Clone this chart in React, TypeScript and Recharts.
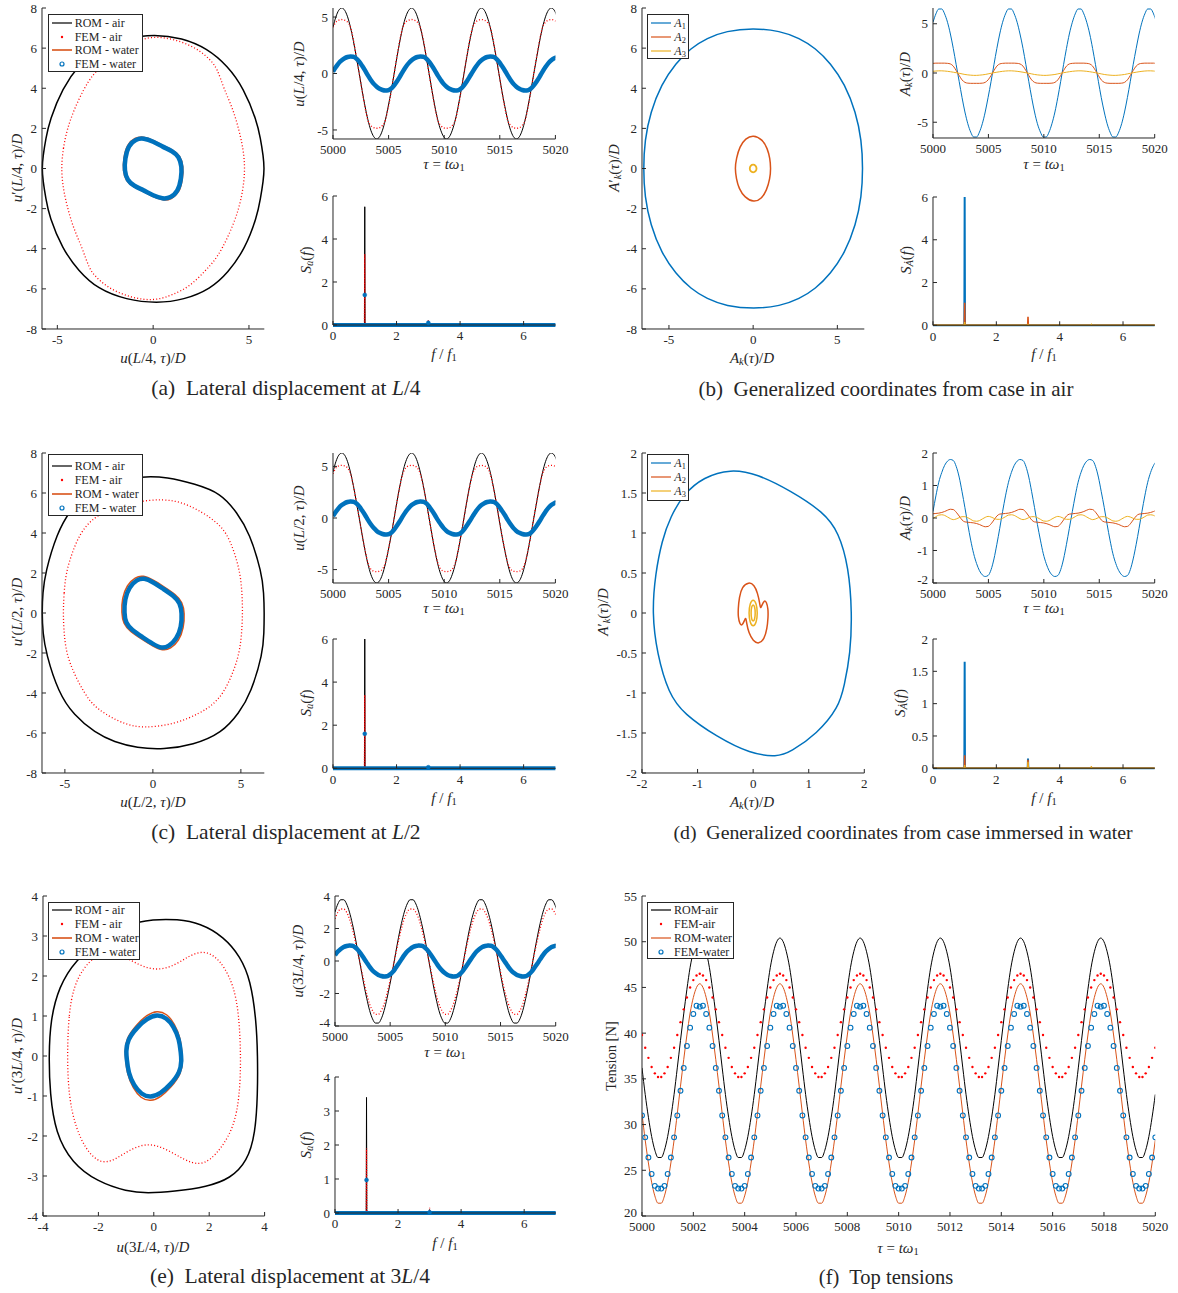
import React from "react";
import { ComposedChart, Line, XAxis, YAxis } from "recharts";

const SERIF = "'Liberation Serif', 'Times New Roman', serif";
const AX = "#262626";
const BLACK = "#000000";
const RED = "#ff0000";
const ORANGE = "#d95319";
const BLUE = "#0072bd";
const YELLOW = "#edb120";

type P = [number, number][];

// ---------------- time grid of the histories (tau = t * omega1) ----------------
const tau = [
  5000.0, 5000.26, 5000.52, 5000.79, 5001.05, 5001.31, 5001.57, 5001.83, 5002.09, 5002.36, 5002.62, 5002.88,
  5003.14, 5003.4, 5003.67, 5003.93, 5004.19, 5004.45, 5004.71, 5004.97, 5005.24, 5005.5, 5005.76, 5006.02,
  5006.28, 5006.54, 5006.81, 5007.07, 5007.33, 5007.59, 5007.85, 5008.12, 5008.38, 5008.64, 5008.9, 5009.16,
  5009.42, 5009.69, 5009.95, 5010.21, 5010.47, 5010.73, 5011.0, 5011.26, 5011.52, 5011.78, 5012.04, 5012.3,
  5012.57, 5012.83, 5013.09, 5013.35, 5013.61, 5013.87, 5014.14, 5014.4, 5014.66, 5014.92, 5015.18, 5015.45,
  5015.71, 5015.97, 5016.23, 5016.49, 5016.76, 5017.02, 5017.28, 5017.54, 5017.8, 5018.06, 5018.33, 5018.59,
  5018.85, 5019.11, 5019.37, 5019.63, 5019.9, 5020.16,
];

// ---------------- (a) lateral displacement at L/4 ----------------
const phaseA_romAir: P = [
  [-5.8, 0], [-5.75, 0.6], [-5.6, 1.5], [-5.4, 2.4], [-4.74, 4], [-3.85, 5.2], [-2.9, 6], [-1.5, 6.5], [0.1, 6.7], [1.5, 6.5],
  [2.8, 6], [3.9, 5.1], [4.72, 4], [5.4, 2.4], [5.6, 1.5], [5.75, 0.6], [5.8, 0], [5.75, -0.6], [5.6, -1.5], [5.42, -2.4], [4.8, -4], [3.9, -5.2],
  [3.0, -6], [1.6, -6.55], [0.2, -6.72], [-1.4, -6.55], [-2.9, -6], [-3.9, -5.1], [-4.74, -4], [-5.42, -2.4], [-5.6, -1.5], [-5.75, -0.6],
];
const phaseA_femAir: P = [
  [-4.8, 0], [-4.7, 1], [-4.48, 2], [-4.1, 3], [-3.6, 4], [-3.2, 4.6], [-2.75, 5.07], [-1.9, 5.9], [-1.0, 6.3],
  [-0.3, 6.53], [0.4, 6.55], [1.08, 6.43], [1.8, 6.2], [2.47, 5.85], [3.0, 5.4], [3.34, 5.0], [3.68, 4], [4.15, 3],
  [4.46, 2], [4.7, 1], [4.8, 0], [4.7, -1], [4.48, -2], [4.1, -3], [3.6, -4], [3.2, -4.6], [2.75, -5.07], [1.9, -5.9],
  [1.0, -6.3], [0.3, -6.53], [-0.4, -6.55], [-1.08, -6.43], [-1.8, -6.2], [-2.47, -5.85], [-3.0, -5.4], [-3.34, -5.0],
  [-3.68, -4], [-4.15, -3], [-4.46, -2], [-4.7, -1],
];
const phaseA_romWater: P = [
  [-1.58, -0.1], [-1.54, 0.53], [-1.37, 1.2], [-0.95, 1.54], [-0.53, 1.6], [0.0, 1.42], [0.53, 1.13], [1.05, 0.91],
  [1.42, 0.63], [1.58, 0.1], [1.54, -0.53], [1.37, -1.2], [0.95, -1.54], [0.53, -1.6], [0.0, -1.42], [-0.53, -1.13],
  [-1.05, -0.91], [-1.42, -0.63],
];
const phaseA_femWater: P = [
  [-1.5, -0.1], [-1.47, 0.5], [-1.3, 1.15], [-0.9, 1.47], [-0.5, 1.52], [0.0, 1.35], [0.5, 1.08], [1.0, 0.87],
  [1.35, 0.6], [1.5, 0.1], [1.47, -0.5], [1.3, -1.15], [0.9, -1.47], [0.5, -1.52], [0.0, -1.35], [-0.5, -1.08],
  [-1.0, -0.87], [-1.35, -0.6],
];
const histA_romAir = [
  4.1, 5.02, 5.6, 5.8, 5.6, 5.02, 4.1, 2.9, 1.5, 0, -1.5, -2.9, -4.1, -5.02, -5.6, -5.8, -5.6, -5.02, -4.1, -2.9, -1.5, 0, 1.5, 2.9,
  4.1, 5.02, 5.6, 5.8, 5.6, 5.02, 4.1, 2.9, 1.5, 0, -1.5, -2.9, -4.1, -5.02, -5.6, -5.8, -5.6, -5.02, -4.1, -2.9, -1.5, 0, 1.5, 2.9,
  4.1, 5.02, 5.6, 5.8, 5.6, 5.02, 4.1, 2.9, 1.5, 0, -1.5, -2.9, -4.1, -5.02, -5.6, -5.8, -5.6, -5.02, -4.1, -2.9, -1.5, 0, 1.5, 2.9,
  4.1, 5.02, 5.6, 5.8, 5.6, 5.02,
];
const histA_femAir = [
  4.1, 4.55, 4.72, 4.78, 4.72, 4.55, 4.1, 3.0, 1.55, 0, -1.55, -3.0, -4.15, -4.6, -4.8, -4.85, -4.8, -4.6, -4.15, -3.0, -1.55, 0, 1.55, 3.0,
  4.1, 4.55, 4.72, 4.78, 4.72, 4.55, 4.1, 3.0, 1.55, 0, -1.55, -3.0, -4.15, -4.6, -4.8, -4.85, -4.8, -4.6, -4.15, -3.0, -1.55, 0, 1.55, 3.0,
  4.1, 4.55, 4.72, 4.78, 4.72, 4.55, 4.1, 3.0, 1.55, 0, -1.55, -3.0, -4.15, -4.6, -4.8, -4.85, -4.8, -4.6, -4.15, -3.0, -1.55, 0, 1.55, 3.0,
  4.1, 4.55, 4.72, 4.78, 4.72, 4.55,
];
const histA_romWater = [
  0.17, 0.59, 0.95, 1.21, 1.4, 1.5, 1.55, 1.53, 1.37, 1.09, 0.7, 0.28, -0.17, -0.59, -0.95, -1.21, -1.4, -1.5, -1.55, -1.53, -1.37, -1.09, -0.7, -0.28,
  0.17, 0.59, 0.95, 1.21, 1.4, 1.5, 1.55, 1.53, 1.37, 1.09, 0.7, 0.28, -0.17, -0.59, -0.95, -1.21, -1.4, -1.5, -1.55, -1.53, -1.37, -1.09, -0.7, -0.28,
  0.17, 0.59, 0.95, 1.21, 1.4, 1.5, 1.55, 1.53, 1.37, 1.09, 0.7, 0.28, -0.17, -0.59, -0.95, -1.21, -1.4, -1.5, -1.55, -1.53, -1.37, -1.09, -0.7, -0.28,
  0.17, 0.59, 0.95, 1.21, 1.4, 1.5,
];
const histA_femWater = [
  0.17, 0.57, 0.92, 1.17, 1.35, 1.46, 1.5, 1.48, 1.33, 1.05, 0.68, 0.27, -0.17, -0.57, -0.92, -1.17, -1.35, -1.46, -1.5, -1.48, -1.33, -1.05, -0.68, -0.27,
  0.17, 0.57, 0.92, 1.17, 1.35, 1.46, 1.5, 1.48, 1.33, 1.05, 0.68, 0.27, -0.17, -0.57, -0.92, -1.17, -1.35, -1.46, -1.5, -1.48, -1.33, -1.05, -0.68, -0.27,
  0.17, 0.57, 0.92, 1.17, 1.35, 1.46, 1.5, 1.48, 1.33, 1.05, 0.68, 0.27, -0.17, -0.57, -0.92, -1.17, -1.35, -1.46, -1.5, -1.48, -1.33, -1.05, -0.68, -0.27,
  0.17, 0.57, 0.92, 1.17, 1.35, 1.46,
];

// spectra: frequency bins and amplitudes
const freqDisp = [0, 0.99, 1, 1.01, 2.99, 3, 3.01, 7];
const freqGen = [0, 0.99, 1, 1.01, 2.99, 3, 3.01, 4.99, 5, 5.01, 7];
const freqBase = [0, 7];
const baseZero = [0, 0];
const freqPeaks = [1, 3];
const specA_romAir = [0, 0, 5.5, 0, 0, 0.12, 0, 0];
const specA_femAir = [0, 0, 3.3, 0, 0, 0.25, 0, 0];
const specA_femWater = [1.4, 0.1];

// ---------------- (b) generalized coordinates, air ----------------
const phaseB_a1: P = [
  [6.52, 0], [6.44, 1.4], [6.1, 2.8], [5.45, 4.2], [4.6, 5.25], [3.7, 6.0], [2.75, 6.5], [1.6, 6.86],
  [0, 7.0], [-1.6, 6.86], [-2.75, 6.5], [-3.7, 6.0], [-4.6, 5.25], [-5.45, 4.2], [-6.1, 2.8], [-6.44, 1.4],
  [-6.52, 0], [-6.44, -1.4], [-6.1, -2.8], [-5.45, -4.2], [-4.6, -5.25], [-3.7, -6.0], [-2.75, -6.5], [-1.6, -6.86],
  [0.05, -7.0], [1.6, -6.86], [2.75, -6.5], [3.7, -6.0], [4.6, -5.25], [5.45, -4.2], [6.1, -2.8], [6.44, -1.4],
];
const phaseB_a2: P = [
  [1.05, 0], [1.0, 0.5], [0.85, 1.0], [0.55, 1.45], [0.0, 1.68], [-0.45, 1.5], [-0.8, 1.1], [-1.0, 0.5], [-1.08, 0],
  [-1.0, -0.5], [-0.85, -1.0], [-0.5, -1.45], [0.05, -1.7], [0.5, -1.5], [0.8, -1.1], [1.0, -0.5],
];
const phaseB_a3: P = [
  [0.22, 0], [0.16, 0.15], [0, 0.21], [-0.16, 0.15], [-0.22, 0], [-0.16, -0.15], [0, -0.21], [0.16, -0.15],
];
const histB_a1 = [
  5.15, 6.0, 6.5, 6.5, 6.0, 5.15, 3.96, 2.49, 0.85, -0.85, -2.49, -3.96, -5.15, -6.0, -6.5, -6.5, -6.0, -5.15, -3.96, -2.49, -0.85, 0.85, 2.49, 3.96,
  5.15, 6.0, 6.5, 6.5, 6.0, 5.15, 3.96, 2.49, 0.85, -0.85, -2.49, -3.96, -5.15, -6.0, -6.5, -6.5, -6.0, -5.15, -3.96, -2.49, -0.85, 0.85, 2.49, 3.96,
  5.15, 6.0, 6.5, 6.5, 6.0, 5.15, 3.96, 2.49, 0.85, -0.85, -2.49, -3.96, -5.15, -6.0, -6.5, -6.5, -6.0, -5.15, -3.96, -2.49, -0.85, 0.85, 2.49, 3.96,
  5.15, 6.0, 6.5, 6.5, 6.0, 5.15,
];
const histB_a2 = [
  0.98, 1.0, 1.0, 1.0, 1.0, 0.98, 0.92, 0.7, 0.25, -0.25, -0.7, -0.95, -1.03, -1.05, -1.05, -1.05, -1.05, -1.03, -0.95, -0.7, -0.25, 0.25, 0.7, 0.92,
  0.98, 1.0, 1.0, 1.0, 1.0, 0.98, 0.92, 0.7, 0.25, -0.25, -0.7, -0.95, -1.03, -1.05, -1.05, -1.05, -1.05, -1.03, -0.95, -0.7, -0.25, 0.25, 0.7, 0.92,
  0.98, 1.0, 1.0, 1.0, 1.0, 0.98, 0.92, 0.7, 0.25, -0.25, -0.7, -0.95, -1.03, -1.05, -1.05, -1.05, -1.05, -1.03, -0.95, -0.7, -0.25, 0.25, 0.7, 0.92,
  0.98, 1.0, 1.0, 1.0, 1.0, 0.98,
];
const histB_a3 = [
  0.17, 0.2, 0.22, 0.22, 0.2, 0.17, 0.13, 0.08, 0.03, -0.03, -0.09, -0.15, -0.19, -0.22, -0.24, -0.24, -0.22, -0.19, -0.15, -0.09, -0.03, 0.03, 0.08, 0.13,
  0.17, 0.2, 0.22, 0.22, 0.2, 0.17, 0.13, 0.08, 0.03, -0.03, -0.09, -0.15, -0.19, -0.22, -0.24, -0.24, -0.22, -0.19, -0.15, -0.09, -0.03, 0.03, 0.08, 0.13,
  0.17, 0.2, 0.22, 0.22, 0.2, 0.17, 0.13, 0.08, 0.03, -0.03, -0.09, -0.15, -0.19, -0.22, -0.24, -0.24, -0.22, -0.19, -0.15, -0.09, -0.03, 0.03, 0.08, 0.13,
  0.17, 0.2, 0.22, 0.22, 0.2, 0.17,
];
const specB_a1 = [0, 0, 6.0, 0, 0, 0.03, 0, 0, 0, 0, 0];
const specB_a2 = [0, 0, 1.05, 0, 0, 0.4, 0, 0, 0, 0, 0];
const specB_a3 = [0, 0, 0.15, 0, 0, 0.03, 0, 0, 0.03, 0, 0];

// ---------------- (c) lateral displacement at L/2 ----------------
const phaseC_romAir: P = [
  [-6.3, 0], [-6.26, 1], [-6.12, 2], [-5.45, 4], [-4.7, 5.15], [-3.75, 6.0], [-2.3, 6.6], [-0.6, 6.84], [0.8, 6.8],
  [2.4, 6.45], [3.85, 6.0], [4.8, 5.0], [5.49, 4], [6.19, 2], [6.3, 1], [6.33, 0], [6.31, -1], [6.25, -2], [5.57, -4],
  [4.9, -5.0], [3.92, -6.0], [2.3, -6.6], [0.6, -6.83], [-0.9, -6.75], [-2.2, -6.45], [-3.28, -6.0], [-4.5, -5.1],
  [-5.36, -4], [-6.08, -2], [-6.25, -1],
];
const phaseC_femAir: P = [
  [-5.1, 0], [-5.05, 1], [-4.94, 2], [-4.6, 3], [-4.13, 4], [-3.5, 4.65], [-2.7, 5.1], [-1.2, 5.55], [0.6, 5.72],
  [1.8, 5.5], [2.88, 5.0], [3.6, 4.55], [4.2, 4], [4.65, 3], [4.96, 2], [5.07, 1], [5.1, 0], [5.05, -1], [4.92, -2],
  [4.55, -3], [4.02, -4], [3.4, -4.6], [2.69, -5.0], [1.3, -5.55], [-0.6, -5.78], [-1.8, -5.5], [-2.8, -5.0],
  [-3.4, -4.6], [-3.9, -4], [-4.5, -3], [-4.92, -2], [-5.05, -1],
];
const phaseC_romWater: P = [
  [-1.78, 0], [-1.75, 0.75], [-1.48, 1.4], [-1.0, 1.8], [-0.55, 1.88], [0.0, 1.66], [0.65, 1.3], [1.3, 0.92],
  [1.68, 0.54], [1.8, 0], [1.75, -0.75], [1.48, -1.4], [1.0, -1.8], [0.55, -1.88], [0.0, -1.66], [-0.65, -1.3],
  [-1.3, -0.92], [-1.68, -0.54],
];
const phaseC_femWater: P = [
  [-1.63, 0], [-1.6, 0.7], [-1.35, 1.3], [-0.9, 1.68], [-0.5, 1.76], [0.0, 1.55], [0.6, 1.2], [1.2, 0.85], [1.55, 0.5],
  [1.65, 0], [1.62, -0.7], [1.35, -1.3], [0.9, -1.68], [0.5, -1.78], [0.0, -1.55], [-0.6, -1.2], [-1.2, -0.85], [-1.55, -0.5],
];
const histC_romAir = [
  4.45, 5.46, 6.09, 6.3, 6.09, 5.46, 4.45, 3.15, 1.63, 0, -1.63, -3.15, -4.45, -5.46, -6.09, -6.3, -6.09, -5.46, -4.45, -3.15, -1.63, 0, 1.63, 3.15,
  4.45, 5.46, 6.09, 6.3, 6.09, 5.46, 4.45, 3.15, 1.63, 0, -1.63, -3.15, -4.45, -5.46, -6.09, -6.3, -6.09, -5.46, -4.45, -3.15, -1.63, 0, 1.63, 3.15,
  4.45, 5.46, 6.09, 6.3, 6.09, 5.46, 4.45, 3.15, 1.63, 0, -1.63, -3.15, -4.45, -5.46, -6.09, -6.3, -6.09, -5.46, -4.45, -3.15, -1.63, 0, 1.63, 3.15,
  4.45, 5.46, 6.09, 6.3, 6.09, 5.46,
];
const histC_femAir = [
  4.3, 4.85, 5.05, 5.1, 5.05, 4.85, 4.3, 3.1, 1.62, 0, -1.62, -3.1, -4.35, -4.95, -5.15, -5.2, -5.15, -4.95, -4.35, -3.1, -1.62, 0, 1.62, 3.1,
  4.3, 4.85, 5.05, 5.1, 5.05, 4.85, 4.3, 3.1, 1.62, 0, -1.62, -3.1, -4.35, -4.95, -5.15, -5.2, -5.15, -4.95, -4.35, -3.1, -1.62, 0, 1.62, 3.1,
  4.3, 4.85, 5.05, 5.1, 5.05, 4.85, 4.3, 3.1, 1.62, 0, -1.62, -3.1, -4.35, -4.95, -5.15, -5.2, -5.15, -4.95, -4.35, -3.1, -1.62, 0, 1.62, 3.1,
  4.3, 4.85, 5.05, 5.1, 5.05, 4.85,
];
const histC_romWater = [
  0.19, 0.65, 1.04, 1.33, 1.53, 1.65, 1.7, 1.67, 1.5, 1.19, 0.77, 0.31, -0.19, -0.65, -1.04, -1.33, -1.53, -1.65, -1.7, -1.67, -1.5, -1.19, -0.77, -0.31,
  0.19, 0.65, 1.04, 1.33, 1.53, 1.65, 1.7, 1.67, 1.5, 1.19, 0.77, 0.31, -0.19, -0.65, -1.04, -1.33, -1.53, -1.65, -1.7, -1.67, -1.5, -1.19, -0.77, -0.31,
  0.19, 0.65, 1.04, 1.33, 1.53, 1.65, 1.7, 1.67, 1.5, 1.19, 0.77, 0.31, -0.19, -0.65, -1.04, -1.33, -1.53, -1.65, -1.7, -1.67, -1.5, -1.19, -0.77, -0.31,
  0.19, 0.65, 1.04, 1.33, 1.53, 1.65,
];
const histC_femWater = [
  0.18, 0.61, 0.98, 1.25, 1.44, 1.55, 1.6, 1.58, 1.42, 1.12, 0.72, 0.29, -0.18, -0.61, -0.98, -1.25, -1.44, -1.55, -1.6, -1.58, -1.42, -1.12, -0.72, -0.29,
  0.18, 0.61, 0.98, 1.25, 1.44, 1.55, 1.6, 1.58, 1.42, 1.12, 0.72, 0.29, -0.18, -0.61, -0.98, -1.25, -1.44, -1.55, -1.6, -1.58, -1.42, -1.12, -0.72, -0.29,
  0.18, 0.61, 0.98, 1.25, 1.44, 1.55, 1.6, 1.58, 1.42, 1.12, 0.72, 0.29, -0.18, -0.61, -0.98, -1.25, -1.44, -1.55, -1.6, -1.58, -1.42, -1.12, -0.72, -0.29,
  0.18, 0.61, 0.98, 1.25, 1.44, 1.55,
];
const specC_romAir = [0, 0, 6.0, 0, 0, 0.05, 0, 0];
const specC_femAir = [0, 0, 3.4, 0, 0, 0.03, 0, 0];
const specC_femWater = [1.6, 0.05];

// ---------------- (d) generalized coordinates, water ----------------
const phaseD_a1: P = [
  [-1.82, 0], [-1.76, 0.49], [-1.64, 0.91], [-1.49, 1.2], [-1.25, 1.49], [-0.89, 1.7], [-0.41, 1.8], [0.07, 1.74],
  [0.67, 1.53], [1.27, 1.26], [1.54, 1.01], [1.72, 0.57], [1.78, 0], [1.75, -0.51], [1.64, -0.91], [1.54, -1.18],
  [1.15, -1.51], [0.67, -1.74], [0.43, -1.8], [-0.05, -1.76], [-0.65, -1.55], [-1.25, -1.26], [-1.52, -1.01], [-1.73, -0.51],
];
const phaseD_a2: P = [
  [-0.08, 0.39], [0.02, 0.35], [0.08, 0.25], [0.12, 0.12], [0.13, 0.05], [0.16, 0.1], [0.2, 0.16], [0.24, 0.14],
  [0.27, 0.05], [0.27, -0.05], [0.25, -0.2], [0.2, -0.33], [0.1, -0.39], [0.0, -0.35], [-0.08, -0.25], [-0.12, -0.12],
  [-0.13, -0.05], [-0.16, -0.1], [-0.2, -0.16], [-0.24, -0.14], [-0.27, -0.05], [-0.27, 0.05], [-0.25, 0.2], [-0.2, 0.33],
];
const phaseD_a3outer: P = [
  [0.08, 0], [0.06, 0.12], [0, 0.18], [-0.06, 0.12], [-0.08, 0], [-0.06, -0.12], [0, -0.18], [0.06, -0.12],
];
const phaseD_a3inner: P = [
  [0.04, 0], [0.03, 0.08], [0, 0.11], [-0.03, 0.08], [-0.04, 0], [-0.03, -0.08], [0, -0.11], [0.03, -0.08],
];
const histD_a1 = [
  0.2, 0.68, 1.1, 1.4, 1.62, 1.75, 1.8, 1.77, 1.59, 1.26, 0.81, 0.32, -0.2, -0.68, -1.1, -1.4, -1.62, -1.75, -1.8, -1.77, -1.59, -1.26, -0.81, -0.32,
  0.2, 0.68, 1.1, 1.4, 1.62, 1.75, 1.8, 1.77, 1.59, 1.26, 0.81, 0.32, -0.2, -0.68, -1.1, -1.4, -1.62, -1.75, -1.8, -1.77, -1.59, -1.26, -0.81, -0.32,
  0.2, 0.68, 1.1, 1.4, 1.62, 1.75, 1.8, 1.77, 1.59, 1.26, 0.81, 0.32, -0.2, -0.68, -1.1, -1.4, -1.62, -1.75, -1.8, -1.77, -1.59, -1.26, -0.81, -0.32,
  0.2, 0.68, 1.1, 1.4, 1.62, 1.75,
];
const histD_a2 = [
  0.13, 0.14, 0.15, 0.17, 0.2, 0.24, 0.27, 0.26, 0.18, 0.06, -0.06, -0.12, -0.13, -0.14, -0.15, -0.17, -0.2, -0.24, -0.27, -0.26, -0.18, -0.06, 0.06, 0.12,
  0.13, 0.14, 0.15, 0.17, 0.2, 0.24, 0.27, 0.26, 0.18, 0.06, -0.06, -0.12, -0.13, -0.14, -0.15, -0.17, -0.2, -0.24, -0.27, -0.26, -0.18, -0.06, 0.06, 0.12,
  0.13, 0.14, 0.15, 0.17, 0.2, 0.24, 0.27, 0.26, 0.18, 0.06, -0.06, -0.12, -0.13, -0.14, -0.15, -0.17, -0.2, -0.24, -0.27, -0.26, -0.18, -0.06, 0.06, 0.12,
  0.13, 0.14, 0.15, 0.17, 0.2, 0.24,
];
const histD_a3 = [
  -0.01, 0.04, 0.09, 0.1, 0.08, 0.03, -0.02, -0.05, -0.03, 0.01, 0.04, 0.04, 0.01, -0.04, -0.09, -0.1, -0.08, -0.03, 0.02, 0.05, 0.03, -0.01, -0.04, -0.04,
  -0.01, 0.04, 0.09, 0.1, 0.08, 0.03, -0.02, -0.05, -0.03, 0.01, 0.04, 0.04, 0.01, -0.04, -0.09, -0.1, -0.08, -0.03, 0.02, 0.05, 0.03, -0.01, -0.04, -0.04,
  -0.01, 0.04, 0.09, 0.1, 0.08, 0.03, -0.02, -0.05, -0.03, 0.01, 0.04, 0.04, 0.01, -0.04, -0.09, -0.1, -0.08, -0.03, 0.02, 0.05, 0.03, -0.01, -0.04, -0.04,
  -0.01, 0.04, 0.09, 0.1, 0.08, 0.03,
];
const specD_a1 = [0, 0, 1.65, 0, 0, 0.15, 0, 0, 0, 0, 0];
const specD_a2 = [0, 0, 0.2, 0, 0, 0.13, 0, 0, 0.01, 0, 0];
const specD_a3 = [0, 0, 0.05, 0, 0, 0.1, 0, 0, 0.03, 0, 0];

// ---------------- (e) lateral displacement at 3L/4 ----------------
const phaseE_romAir: P = [
  [-3.79, 0], [-3.73, 0.9], [-3.43, 1.73], [-2.83, 2.4], [-1.93, 2.9], [-1.0, 3.3], [0, 3.42], [0.84, 3.42],
  [1.68, 3.32], [2.53, 2.98], [3.13, 2.48], [3.49, 1.9], [3.7, 0.9], [3.75, 0], [3.75, -0.93], [3.67, -1.93],
  [3.37, -2.64], [2.77, -3.06], [1.93, -3.27], [0.72, -3.39], [-0.24, -3.43], [-0.96, -3.39], [-2.05, -3.14],
  [-2.95, -2.68], [-3.55, -1.93], [-3.75, -0.93],
];
const phaseE_femAir: P = [
  [-3.13, 0], [-3.07, 1.07], [-2.89, 1.73], [-2.55, 2.2], [-2.1, 2.5], [-1.7, 2.62], [-1.2, 2.55], [-0.5, 2.25],
  [0.18, 2.13], [0.8, 2.28], [1.3, 2.52], [1.8, 2.63], [2.2, 2.5], [2.55, 2.23], [2.89, 1.73], [3.07, 1.07], [3.15, 0],
  [3.1, -1.02], [2.89, -1.77], [2.47, -2.27], [2.05, -2.6], [1.62, -2.73], [1.1, -2.6], [0.4, -2.3], [-0.24, -2.17],
  [-0.9, -2.35], [-1.4, -2.6], [-1.93, -2.7], [-2.45, -2.35], [-2.83, -1.77], [-3.07, -1.02],
];
const phaseE_romWater: P = [
  [-1.04, 0.11], [-1.0, 0.44], [-0.62, 0.79], [-0.25, 1.03], [0.12, 1.14], [0.47, 1.06], [0.75, 0.81], [0.96, 0.46],
  [1.02, 0.06], [1.04, -0.11], [1.0, -0.44], [0.62, -0.79], [0.25, -1.03], [-0.12, -1.14], [-0.47, -1.06],
  [-0.75, -0.81], [-0.96, -0.46], [-1.02, -0.06],
];
const phaseE_femWater: P = [
  [-1.0, 0.1], [-0.96, 0.4], [-0.6, 0.72], [-0.24, 0.94], [0.12, 1.04], [0.45, 0.96], [0.72, 0.74], [0.92, 0.42],
  [0.98, 0.05], [1.0, -0.1], [0.96, -0.4], [0.6, -0.72], [0.24, -0.94], [-0.12, -1.04], [-0.45, -0.96], [-0.72, -0.74],
  [-0.92, -0.42], [-0.98, -0.05],
];
const histE_romAir = [
  3.01, 3.51, 3.77, 3.77, 3.51, 3.01, 2.31, 1.46, 0.5, -0.5, -1.46, -2.31, -3.05, -3.56, -3.82, -3.82, -3.56, -3.05, -2.31, -1.46, -0.5, 0.5, 1.46, 2.31,
  3.01, 3.51, 3.77, 3.77, 3.51, 3.01, 2.31, 1.46, 0.5, -0.5, -1.46, -2.31, -3.05, -3.56, -3.82, -3.82, -3.56, -3.05, -2.31, -1.46, -0.5, 0.5, 1.46, 2.31,
  3.01, 3.51, 3.77, 3.77, 3.51, 3.01, 2.31, 1.46, 0.5, -0.5, -1.46, -2.31, -3.05, -3.56, -3.82, -3.82, -3.56, -3.05, -2.31, -1.46, -0.5, 0.5, 1.46, 2.31,
  3.01, 3.51, 3.77, 3.77, 3.51, 3.01,
];
const histE_femAir = [
  2.6, 3.0, 3.2, 3.2, 3.0, 2.6, 2.0, 1.25, 0.43, -0.43, -1.27, -2.02, -2.65, -3.05, -3.28, -3.28, -3.05, -2.65, -2.02, -1.27, -0.43, 0.43, 1.25, 2.0,
  2.6, 3.0, 3.2, 3.2, 3.0, 2.6, 2.0, 1.25, 0.43, -0.43, -1.27, -2.02, -2.65, -3.05, -3.28, -3.28, -3.05, -2.65, -2.02, -1.27, -0.43, 0.43, 1.25, 2.0,
  2.6, 3.0, 3.2, 3.2, 3.0, 2.6, 2.0, 1.25, 0.43, -0.43, -1.27, -2.02, -2.65, -3.05, -3.28, -3.28, -3.05, -2.65, -2.02, -1.27, -0.43, 0.43, 1.25, 2.0,
  2.6, 3.0, 3.2, 3.2, 3.0, 2.6,
];
const histE_romWater = [
  0.39, 0.62, 0.8, 0.92, 0.99, 1.02, 1.0, 0.9, 0.71, 0.46, 0.18, -0.11, -0.39, -0.62, -0.8, -0.92, -0.99, -1.02, -1.0, -0.9, -0.71, -0.46, -0.18, 0.11,
  0.39, 0.62, 0.8, 0.92, 0.99, 1.02, 1.0, 0.9, 0.71, 0.46, 0.18, -0.11, -0.39, -0.62, -0.8, -0.92, -0.99, -1.02, -1.0, -0.9, -0.71, -0.46, -0.18, 0.11,
  0.39, 0.62, 0.8, 0.92, 0.99, 1.02, 1.0, 0.9, 0.71, 0.46, 0.18, -0.11, -0.39, -0.62, -0.8, -0.92, -0.99, -1.02, -1.0, -0.9, -0.71, -0.46, -0.18, 0.11,
  0.39, 0.62, 0.8, 0.92, 0.99, 1.02,
];
const histE_femWater = [
  0.36, 0.58, 0.74, 0.86, 0.92, 0.95, 0.94, 0.84, 0.67, 0.43, 0.17, -0.1, -0.36, -0.58, -0.74, -0.86, -0.92, -0.95, -0.94, -0.84, -0.67, -0.43, -0.17, 0.1,
  0.36, 0.58, 0.74, 0.86, 0.92, 0.95, 0.94, 0.84, 0.67, 0.43, 0.17, -0.1, -0.36, -0.58, -0.74, -0.86, -0.92, -0.95, -0.94, -0.84, -0.67, -0.43, -0.17, 0.1,
  0.36, 0.58, 0.74, 0.86, 0.92, 0.95, 0.94, 0.84, 0.67, 0.43, 0.17, -0.1, -0.36, -0.58, -0.74, -0.86, -0.92, -0.95, -0.94, -0.84, -0.67, -0.43, -0.17, 0.1,
  0.36, 0.58, 0.74, 0.86, 0.92, 0.95,
];
const specE_romAir = [0, 0, 3.4, 0, 0, 0.1, 0, 0];
const specE_femAir = [0, 0, 1.9, 0, 0, 0.15, 0, 0];
const specE_femWater = [0.97, 0.02];

// ---------------- (f) top tensions ----------------
const tauF = [
  5000, 5000.125, 5000.25, 5000.375, 5000.5, 5000.625, 5000.75, 5000.875,
  5001, 5001.125, 5001.25, 5001.375, 5001.5, 5001.625, 5001.75, 5001.875,
  5002, 5002.125, 5002.25, 5002.375, 5002.5, 5002.625, 5002.75, 5002.875,
  5003, 5003.125, 5003.25, 5003.375, 5003.5, 5003.625, 5003.75, 5003.875,
  5004, 5004.125, 5004.25, 5004.375, 5004.5, 5004.625, 5004.75, 5004.875,
  5005, 5005.125, 5005.25, 5005.375, 5005.5, 5005.625, 5005.75, 5005.875,
  5006, 5006.125, 5006.25, 5006.375, 5006.5, 5006.625, 5006.75, 5006.875,
  5007, 5007.125, 5007.25, 5007.375, 5007.5, 5007.625, 5007.75, 5007.875,
  5008, 5008.125, 5008.25, 5008.375, 5008.5, 5008.625, 5008.75, 5008.875,
  5009, 5009.125, 5009.25, 5009.375, 5009.5, 5009.625, 5009.75, 5009.875,
  5010, 5010.125, 5010.25, 5010.375, 5010.5, 5010.625, 5010.75, 5010.875,
  5011, 5011.125, 5011.25, 5011.375, 5011.5, 5011.625, 5011.75, 5011.875,
  5012, 5012.125, 5012.25, 5012.375, 5012.5, 5012.625, 5012.75, 5012.875,
  5013, 5013.125, 5013.25, 5013.375, 5013.5, 5013.625, 5013.75, 5013.875,
  5014, 5014.125, 5014.25, 5014.375, 5014.5, 5014.625, 5014.75, 5014.875,
  5015, 5015.125, 5015.25, 5015.375, 5015.5, 5015.625, 5015.75, 5015.875,
  5016, 5016.125, 5016.25, 5016.375, 5016.5, 5016.625, 5016.75, 5016.875,
  5017, 5017.125, 5017.25, 5017.375, 5017.5, 5017.625, 5017.75, 5017.875,
  5018, 5018.125, 5018.25, 5018.375, 5018.5, 5018.625, 5018.75, 5018.875,
  5019, 5019.125, 5019.25, 5019.375, 5019.5, 5019.625, 5019.75, 5019.875,
  5020,
];
const tensionRomAir = [
  36.2, 33.3, 30.8, 28.7, 27.2, 26.4,
  26.4, 27.2, 28.7, 30.8, 33.3, 36.2, 39.2, 42.1, 44.8, 47.2, 48.9, 50.0, 50.4, 50.0, 48.9, 47.2, 44.8, 42.1, 39.2, 36.2, 33.3, 30.8, 28.7, 27.2, 26.4,
  26.4, 27.2, 28.7, 30.8, 33.3, 36.2, 39.2, 42.1, 44.8, 47.2, 48.9, 50.0, 50.4, 50.0, 48.9, 47.2, 44.8, 42.1, 39.2, 36.2, 33.3, 30.8, 28.7, 27.2, 26.4,
  26.4, 27.2, 28.7, 30.8, 33.3, 36.2, 39.2, 42.1, 44.8, 47.2, 48.9, 50.0, 50.4, 50.0, 48.9, 47.2, 44.8, 42.1, 39.2, 36.2, 33.3, 30.8, 28.7, 27.2, 26.4,
  26.4, 27.2, 28.7, 30.8, 33.3, 36.2, 39.2, 42.1, 44.8, 47.2, 48.9, 50.0, 50.4, 50.0, 48.9, 47.2, 44.8, 42.1, 39.2, 36.2, 33.3, 30.8, 28.7, 27.2, 26.4,
  26.4, 27.2, 28.7, 30.8, 33.3, 36.2, 39.2, 42.1, 44.8, 47.2, 48.9, 50.0, 50.4, 50.0, 48.9, 47.2, 44.8, 42.1, 39.2, 36.2, 33.3, 30.8, 28.7, 27.2, 26.4,
  26.4, 27.2, 28.7, 30.8, 33.3, 36.2, 39.2, 42.1, 44.8, 47.2, 48.9, 50.0, 50.4, 50.0, 48.9, 47.2, 44.8, 42.1, 39.2, 36.2, 33.3, 30.8, 28.7, 27.2, 26.4,
  26.4, 27.2, 28.7, 30.8, 33.3,
];
const tensionFemAir = [
  39.8, 38.4, 37.3, 36.3, 35.6, 35.2,
  35.2, 35.6, 36.3, 37.3, 38.4, 39.8, 41.2, 42.6, 43.9, 45.0, 45.8, 46.3, 46.5, 46.3, 45.8, 45.0, 43.9, 42.6, 41.2, 39.8, 38.4, 37.3, 36.3, 35.6, 35.2,
  35.2, 35.6, 36.3, 37.3, 38.4, 39.8, 41.2, 42.6, 43.9, 45.0, 45.8, 46.3, 46.5, 46.3, 45.8, 45.0, 43.9, 42.6, 41.2, 39.8, 38.4, 37.3, 36.3, 35.6, 35.2,
  35.2, 35.6, 36.3, 37.3, 38.4, 39.8, 41.2, 42.6, 43.9, 45.0, 45.8, 46.3, 46.5, 46.3, 45.8, 45.0, 43.9, 42.6, 41.2, 39.8, 38.4, 37.3, 36.3, 35.6, 35.2,
  35.2, 35.6, 36.3, 37.3, 38.4, 39.8, 41.2, 42.6, 43.9, 45.0, 45.8, 46.3, 46.5, 46.3, 45.8, 45.0, 43.9, 42.6, 41.2, 39.8, 38.4, 37.3, 36.3, 35.6, 35.2,
  35.2, 35.6, 36.3, 37.3, 38.4, 39.8, 41.2, 42.6, 43.9, 45.0, 45.8, 46.3, 46.5, 46.3, 45.8, 45.0, 43.9, 42.6, 41.2, 39.8, 38.4, 37.3, 36.3, 35.6, 35.2,
  35.2, 35.6, 36.3, 37.3, 38.4, 39.8, 41.2, 42.6, 43.9, 45.0, 45.8, 46.3, 46.5, 46.3, 45.8, 45.0, 43.9, 42.6, 41.2, 39.8, 38.4, 37.3, 36.3, 35.6, 35.2,
  35.2, 35.6, 36.3, 37.3, 38.4,
];
const tensionRomWater = [
  31.2, 28.3, 25.8, 23.7, 22.2, 21.4,
  21.4, 22.2, 23.7, 25.8, 28.3, 31.2, 34.2, 37.1, 39.8, 42.2, 43.9, 45.0, 45.4, 45.0, 43.9, 42.2, 39.8, 37.1, 34.2, 31.2, 28.3, 25.8, 23.7, 22.2, 21.4,
  21.4, 22.2, 23.7, 25.8, 28.3, 31.2, 34.2, 37.1, 39.8, 42.2, 43.9, 45.0, 45.4, 45.0, 43.9, 42.2, 39.8, 37.1, 34.2, 31.2, 28.3, 25.8, 23.7, 22.2, 21.4,
  21.4, 22.2, 23.7, 25.8, 28.3, 31.2, 34.2, 37.1, 39.8, 42.2, 43.9, 45.0, 45.4, 45.0, 43.9, 42.2, 39.8, 37.1, 34.2, 31.2, 28.3, 25.8, 23.7, 22.2, 21.4,
  21.4, 22.2, 23.7, 25.8, 28.3, 31.2, 34.2, 37.1, 39.8, 42.2, 43.9, 45.0, 45.4, 45.0, 43.9, 42.2, 39.8, 37.1, 34.2, 31.2, 28.3, 25.8, 23.7, 22.2, 21.4,
  21.4, 22.2, 23.7, 25.8, 28.3, 31.2, 34.2, 37.1, 39.8, 42.2, 43.9, 45.0, 45.4, 45.0, 43.9, 42.2, 39.8, 37.1, 34.2, 31.2, 28.3, 25.8, 23.7, 22.2, 21.4,
  21.4, 22.2, 23.7, 25.8, 28.3, 31.2, 34.2, 37.1, 39.8, 42.2, 43.9, 45.0, 45.4, 45.0, 43.9, 42.2, 39.8, 37.1, 34.2, 31.2, 28.3, 25.8, 23.7, 22.2, 21.4,
  21.4, 22.2, 23.7, 25.8, 28.3,
];
const tensionFemWater = [
  31.0, 28.6, 26.4, 24.6, 23.3, 23.0,
  23.0, 23.3, 24.6, 26.4, 28.6, 31.0, 33.7, 36.2, 38.6, 40.6, 42.1, 43.0, 42.9, 43.0, 42.1, 40.6, 38.6, 36.2, 33.7, 31.0, 28.6, 26.4, 24.6, 23.3, 23.0,
  23.0, 23.3, 24.6, 26.4, 28.6, 31.0, 33.7, 36.2, 38.6, 40.6, 42.1, 43.0, 42.9, 43.0, 42.1, 40.6, 38.6, 36.2, 33.7, 31.0, 28.6, 26.4, 24.6, 23.3, 23.0,
  23.0, 23.3, 24.6, 26.4, 28.6, 31.0, 33.7, 36.2, 38.6, 40.6, 42.1, 43.0, 42.9, 43.0, 42.1, 40.6, 38.6, 36.2, 33.7, 31.0, 28.6, 26.4, 24.6, 23.3, 23.0,
  23.0, 23.3, 24.6, 26.4, 28.6, 31.0, 33.7, 36.2, 38.6, 40.6, 42.1, 43.0, 42.9, 43.0, 42.1, 40.6, 38.6, 36.2, 33.7, 31.0, 28.6, 26.4, 24.6, 23.3, 23.0,
  23.0, 23.3, 24.6, 26.4, 28.6, 31.0, 33.7, 36.2, 38.6, 40.6, 42.1, 43.0, 42.9, 43.0, 42.1, 40.6, 38.6, 36.2, 33.7, 31.0, 28.6, 26.4, 24.6, 23.3, 23.0,
  23.0, 23.3, 24.6, 26.4, 28.6, 31.0, 33.7, 36.2, 38.6, 40.6, 42.1, 43.0, 42.9, 43.0, 42.1, 40.6, 38.6, 36.2, 33.7, 31.0, 28.6, 26.4, 24.6, 23.3, 23.0,
  23.0, 23.3, 24.6, 26.4, 28.6,
];

// ---------------- ticks ----------------
const ticksU8 = [-8, -6, -4, -2, 0, 2, 4, 6, 8];
const ticksFive = [-5, 0, 5];
const ticksTau = [5000, 5005, 5010, 5015, 5020];
const ticksFreq = [0, 2, 4, 6];
const ticksS6 = [0, 2, 4, 6];
const ticksD2 = [-2, -1, 0, 1, 2];
const ticksDHalf = [-2, -1.5, -1, -0.5, 0, 0.5, 1, 1.5, 2];
const ticksS2 = [0, 0.5, 1, 1.5, 2];
const ticksE4 = [-4, -3, -2, -1, 0, 1, 2, 3, 4];
const ticksE2 = [-4, -2, 0, 2, 4];
const ticksS4 = [0, 1, 2, 3, 4];
const ticksTauF = [5000, 5002, 5004, 5006, 5008, 5010, 5012, 5014, 5016, 5018, 5020];
const ticksTension = [20, 25, 30, 35, 40, 45, 50, 55];

// ---------------- helpers ----------------
const xy = (p: P) => p.map(([x, y]) => ({ x, y }));
const zip = (xs: number[], ys: number[]) => xs.map((x, i) => ({ x, y: ys[i] }));

function curve(key: string, data: any[], color: string, width: number, opt: any = {}) {
  return (
    <Line
      key={key}
      xAxisId="b"
      yAxisId="l"
      data={data}
      dataKey="y"
      type={opt.type || "monotone"}
      stroke={color}
      strokeWidth={width}
      strokeDasharray={opt.dash}
      dot={opt.dot || false}
      activeDot={false}
      legendType="none"
      isAnimationActive={false}
    />
  );
}
const loop = (key: string, p: P, color: string, width: number, dash?: string) =>
  curve(key, xy(p), color, width, { type: "basisClosed", dash });
const hist = (key: string, ys: number[], color: string, width: number, dash?: string) =>
  curve(key, zip(tau, ys), color, width, { dash });
const spike = (key: string, fs: number[], ys: number[], color: string, width: number, dash?: string) =>
  curve(key, zip(fs, ys), color, width, { type: "linear", dash });
const marks = (key: string, fs: number[], ys: number[], dot: any) =>
  curve(key, zip(fs, ys), "none", 0, { type: "linear", dot });

const tickStyle = { fill: AX, fontSize: 13, fontFamily: SERIF };

// y tick label; the lowest label is nudged up a little where it would collide with the first x label
const yTick = (lift: number | null) => (p: any) => (
  <text
    x={p.x}
    y={p.y + (lift !== null && p.payload.value === lift ? -4 : 0)}
    dy="0.355em"
    textAnchor="end"
    fill={AX}
    fontSize={13}
    fontFamily={SERIF}
  >
    {p.payload.value}
  </text>
);

function Panel({ box, xd, yd, xt, yt, clip = false, lift = null, children }: any) {
  const [L, T, W, H] = box;
  const ML = 40, MT = 8, MR = 18, XH = 24;
  return (
    <div style={{ position: "absolute", left: L - ML, top: T - MT }}>
      <ComposedChart width={W + ML + MR} height={H + MT + XH} margin={{ top: MT, right: MR, bottom: 0, left: 0 }}>
        <XAxis xAxisId="b" type="number" dataKey="x" domain={xd} ticks={xt} interval={0} allowDataOverflow={clip}
          height={XH} tickSize={-4} tickMargin={10} stroke={AX} tick={tickStyle} />
        <XAxis xAxisId="t" orientation="top" type="number" dataKey="x" domain={xd} ticks={xt} interval={0}
          allowDataOverflow={clip} height={0} tickSize={-4} tick={false} stroke={AX} />
        <YAxis yAxisId="l" type="number" domain={yd} ticks={yt} interval={0} allowDataOverflow={clip}
          width={ML} tickSize={-4} tickMargin={9} stroke={AX} tick={yTick(lift)} />
        <YAxis yAxisId="r" orientation="right" type="number" domain={yd} ticks={yt} interval={0}
          allowDataOverflow={clip} width={0} tickSize={-4} tick={false} stroke={AX} />
        {children}
      </ComposedChart>
    </div>
  );
}

function Txt({ x, y, rot = false, size = 15, children }: any) {
  return (
    <div
      style={{
        position: "absolute", left: x, top: y,
        transform: `translate(-50%, -50%)${rot ? " rotate(-90deg)" : ""}`,
        fontFamily: SERIF, fontSize: size, color: AX, whiteSpace: "nowrap", lineHeight: 1,
      }}
    >
      {children}
    </div>
  );
}

const subS: any = { fontSize: "0.7em", verticalAlign: "-0.25em", lineHeight: 0 };

function Legend({ x, y, w, h, top = 8, pitch = 14, items }: any) {
  return (
    <div style={{ position: "absolute", left: x, top: y, width: w, height: h, background: "#fff",
      border: `1px solid ${AX}`, boxSizing: "border-box", fontFamily: SERIF, fontSize: 12, color: AX }}>
      {items.map((it: any, i: number) => (
        <div key={i} style={{ position: "absolute", left: 0, top: top + pitch * i - 6, height: 12, lineHeight: "12px",
          display: "flex", alignItems: "center", whiteSpace: "nowrap" }}>
          <svg width={26} height={12} style={{ flex: "none" }}>
            {it.kind === "line" && <line x1={3} x2={23} y1={6} y2={6} stroke={it.color} strokeWidth={it.w || 1.2} />}
            {it.kind === "dot" && <circle cx={13} cy={6} r={1.2} fill={it.color} />}
            {it.kind === "ring" && <circle cx={13} cy={6} r={2} fill="none" stroke={it.color} strokeWidth={1.2} />}
          </svg>
          <span>{it.label}</span>
        </div>
      ))}
    </div>
  );
}

const dispItems = [
  { label: "ROM - air", kind: "line", color: BLACK },
  { label: "FEM - air", kind: "dot", color: RED },
  { label: "ROM - water", kind: "line", color: ORANGE, w: 1.6 },
  { label: "FEM - water", kind: "ring", color: BLUE },
];
const genItems = [
  { label: <><i>A</i><sub style={subS}>1</sub></>, kind: "line", color: BLUE },
  { label: <><i>A</i><sub style={subS}>2</sub></>, kind: "line", color: ORANGE },
  { label: <><i>A</i><sub style={subS}>3</sub></>, kind: "line", color: YELLOW },
];
const tensionItems = [
  { label: "ROM-air", kind: "line", color: BLACK },
  { label: "FEM-air", kind: "dot", color: RED },
  { label: "ROM-water", kind: "line", color: ORANGE },
  { label: "FEM-water", kind: "ring", color: BLUE },
];

const TauLabel = () => (<><i>τ</i> = <i>tω</i><sub style={subS}>1</sub></>);
const FLabel = () => (<><i>f</i> / <i>f</i><sub style={subS}>1</sub></>);
const SuLabel = () => (<><i>S</i><sub style={subS}><i>u&#775;</i></sub>(<i>f</i>)</>);
const SaLabel = () => (<><i>S</i><sub style={subS}><i>A&#775;</i></sub>(<i>f</i>)</>);
const ULabel = ({ pos, prime }: any) => (<><i>u</i>{prime ? "′" : ""}({pos}, <i>τ</i>)/<i>D</i></>);
const AkLabel = ({ prime }: any) => (<><i>A</i>{prime ? "′" : ""}<sub style={subS}><i>k</i></sub>(<i>τ</i>)/<i>D</i></>);

const ringDot = { r: 2.4, fill: "none", stroke: BLUE, strokeWidth: 1.1 };
const redDot = { r: 1.2, fill: RED, stroke: "none" };
const blueSq = { r: 2, fill: BLUE, stroke: BLUE, strokeWidth: 0.5 };

export default function App() {
  return (
    <div style={{ position: "absolute", left: 0, top: 0, width: 1178, height: 1293, background: "#fff", overflow: "hidden" }}>
      {/* ===== (a) ===== */}
      <Panel box={[41.7, 8.3, 222.3, 321]} xd={[-5.8, 5.8]} yd={[-8, 8]} xt={ticksFive} yt={ticksU8}>
        {loop("ar", phaseA_romAir, BLACK, 1.5)}
        {loop("fa", phaseA_femAir, RED, 1.3, "1 2.2")}
        {loop("rw", phaseA_romWater, ORANGE, 1.5)}
        {loop("fw", phaseA_femWater, BLUE, 4.5)}
      </Panel>
      <Panel box={[333.3, 8.3, 222.4, 131]} xd={[5000, 5020]} yd={[-5.8, 5.8]} xt={ticksTau} yt={ticksFive} clip>
        {hist("ar", histA_romAir, BLACK, 1)}
        {hist("fa", histA_femAir, RED, 1.3, "1 2")}
        {hist("rw", histA_romWater, ORANGE, 1.2)}
        {hist("fw", histA_femWater, BLUE, 4.5)}
      </Panel>
      <Panel box={[333.3, 196, 222.4, 129]} xd={[0, 7]} yd={[0, 6]} xt={ticksFreq} yt={ticksS6}>
        {spike("ar", freqDisp, specA_romAir, BLACK, 1)}
        {spike("fa", freqDisp, specA_femAir, RED, 1.3, "1 1.5")}
        {spike("fb", freqBase, baseZero, BLUE, 4)}
        {marks("fp", freqPeaks, specA_femWater, blueSq)}
      </Panel>
      <Legend x={47.7} y={14} w={95} h={58} top={8} pitch={13.7} items={dispItems} />
      <Txt x={17} y={168} rot><ULabel pos={<><i>L</i>/4</>} prime /></Txt>
      <Txt x={153} y={358}><ULabel pos={<><i>L</i>/4</>} /></Txt>
      <Txt x={299} y={74} rot><ULabel pos={<><i>L</i>/4</>} /></Txt>
      <Txt x={444} y={164}><TauLabel /></Txt>
      <Txt x={306} y={260} rot><SuLabel /></Txt>
      <Txt x={444} y={354}><FLabel /></Txt>
      <Txt x={286} y={389} size={21.5}>(a)&nbsp; Lateral displacement at <i>L</i>/4</Txt>

      {/* ===== (b) ===== */}
      <Panel box={[641.7, 8.3, 222.3, 321]} xd={[-6.6, 6.6]} yd={[-8, 8]} xt={ticksFive} yt={ticksU8}>
        {loop("a1", phaseB_a1, BLUE, 1.5)}
        {loop("a2", phaseB_a2, ORANGE, 1.5)}
        {loop("a3", phaseB_a3, YELLOW, 1.8)}
      </Panel>
      <Panel box={[933.3, 8.3, 221.7, 130]} xd={[5000, 5020]} yd={[-6.6, 6.6]} xt={ticksTau} yt={ticksFive} clip>
        {hist("a1", histB_a1, BLUE, 1)}
        {hist("a2", histB_a2, ORANGE, 1)}
        {hist("a3", histB_a3, YELLOW, 1)}
      </Panel>
      <Panel box={[933.3, 196.7, 221.7, 128.3]} xd={[0, 7]} yd={[0, 6]} xt={ticksFreq} yt={ticksS6}>
        {spike("a1", freqGen, specB_a1, BLUE, 2)}
        {spike("a2", freqGen, specB_a2, ORANGE, 1.6)}
        {spike("a3", freqGen, specB_a3, YELLOW, 1.4)}
      </Panel>
      <Legend x={647.3} y={14} w={42} h={45} top={8} pitch={14} items={genItems} />
      <Txt x={614} y={168} rot><AkLabel prime /></Txt>
      <Txt x={752} y={358}><AkLabel /></Txt>
      <Txt x={905} y={74} rot><AkLabel /></Txt>
      <Txt x={1044} y={164}><TauLabel /></Txt>
      <Txt x={906} y={260} rot><SaLabel /></Txt>
      <Txt x={1044} y={354}><FLabel /></Txt>
      <Txt x={886} y={389} size={21}>(b)&nbsp; Generalized coordinates from case in air</Txt>

      {/* ===== (c) ===== */}
      <Panel box={[41.7, 452.7, 222.3, 320]} xd={[-6.3, 6.3]} yd={[-8, 8]} xt={ticksFive} yt={ticksU8}>
        {loop("ar", phaseC_romAir, BLACK, 1.5)}
        {loop("fa", phaseC_femAir, RED, 1.3, "1 2.2")}
        {loop("rw", phaseC_romWater, ORANGE, 1.6)}
        {loop("fw", phaseC_femWater, BLUE, 4.5)}
      </Panel>
      <Panel box={[333.3, 452.7, 222.4, 130]} xd={[5000, 5020]} yd={[-6.3, 6.3]} xt={ticksTau} yt={ticksFive} clip>
        {hist("ar", histC_romAir, BLACK, 1)}
        {hist("fa", histC_femAir, RED, 1.3, "1 2")}
        {hist("rw", histC_romWater, ORANGE, 1.2)}
        {hist("fw", histC_femWater, BLUE, 4.5)}
      </Panel>
      <Panel box={[333.3, 639, 222.4, 129.3]} xd={[0, 7]} yd={[0, 6]} xt={ticksFreq} yt={ticksS6}>
        {spike("ar", freqDisp, specC_romAir, BLACK, 1)}
        {spike("fa", freqDisp, specC_femAir, RED, 1.3, "1 1.5")}
        {spike("fb", freqBase, baseZero, BLUE, 4)}
        {marks("fp", freqPeaks, specC_femWater, blueSq)}
      </Panel>
      <Legend x={47.7} y={454} w={95} h={62} top={11} pitch={14} items={dispItems} />
      <Txt x={17} y={612} rot><ULabel pos={<><i>L</i>/2</>} prime /></Txt>
      <Txt x={153} y={802}><ULabel pos={<><i>L</i>/2</>} /></Txt>
      <Txt x={299} y={518} rot><ULabel pos={<><i>L</i>/2</>} /></Txt>
      <Txt x={444} y={608}><TauLabel /></Txt>
      <Txt x={306} y={703} rot><SuLabel /></Txt>
      <Txt x={444} y={798}><FLabel /></Txt>
      <Txt x={286} y={833} size={21.5}>(c)&nbsp; Lateral displacement at <i>L</i>/2</Txt>

      {/* ===== (d) ===== */}
      <Panel box={[641.7, 452.7, 222.3, 320]} xd={[-2, 2]} yd={[-2, 2]} xt={ticksD2} yt={ticksDHalf}>
        {loop("a1", phaseD_a1, BLUE, 1.5)}
        {loop("a2", phaseD_a2, ORANGE, 1.5)}
        {loop("a3o", phaseD_a3outer, YELLOW, 1.5)}
        {loop("a3i", phaseD_a3inner, YELLOW, 1.5)}
      </Panel>
      <Panel box={[933.3, 452.7, 221.7, 130]} xd={[5000, 5020]} yd={[-2, 2]} xt={ticksTau} yt={ticksD2} clip lift={-2}>
        {hist("a1", histD_a1, BLUE, 1)}
        {hist("a2", histD_a2, ORANGE, 1)}
        {hist("a3", histD_a3, YELLOW, 1)}
      </Panel>
      <Panel box={[933.3, 639, 221.7, 129.3]} xd={[0, 7]} yd={[0, 2]} xt={ticksFreq} yt={ticksS2}>
        {spike("a1", freqGen, specD_a1, BLUE, 2)}
        {spike("a2", freqGen, specD_a2, ORANGE, 1.6)}
        {spike("a3", freqGen, specD_a3, YELLOW, 1.4)}
      </Panel>
      <Legend x={647.3} y={454} w={42} h={47} top={8} pitch={14} items={genItems} />
      <Txt x={603} y={612} rot><AkLabel prime /></Txt>
      <Txt x={752} y={802}><AkLabel /></Txt>
      <Txt x={905} y={518} rot><AkLabel /></Txt>
      <Txt x={1044} y={608}><TauLabel /></Txt>
      <Txt x={900} y={703} rot><SaLabel /></Txt>
      <Txt x={1044} y={798}><FLabel /></Txt>
      <Txt x={903} y={833} size={19.8}>(d)&nbsp; Generalized coordinates from case immersed in water</Txt>

      {/* ===== (e) ===== */}
      <Panel box={[42.7, 896, 221.6, 320]} xd={[-4, 4]} yd={[-4, 4]} xt={ticksE2} yt={ticksE4}>
        {loop("ar", phaseE_romAir, BLACK, 1.5)}
        {loop("fa", phaseE_femAir, RED, 1.3, "1 2.2")}
        {loop("rw", phaseE_romWater, ORANGE, 1.5)}
        {loop("fw", phaseE_femWater, BLUE, 4.5)}
      </Panel>
      <Panel box={[335, 896, 220.7, 130]} xd={[5000, 5020]} yd={[-4, 4]} xt={ticksTau} yt={ticksE2} clip lift={-4}>
        {hist("ar", histE_romAir, BLACK, 1)}
        {hist("fa", histE_femAir, RED, 1.3, "1 2")}
        {hist("rw", histE_romWater, ORANGE, 1.2)}
        {hist("fw", histE_femWater, BLUE, 4.5)}
      </Panel>
      <Panel box={[335, 1076.7, 220.7, 136]} xd={[0, 7]} yd={[0, 4]} xt={ticksFreq} yt={ticksS4}>
        {spike("ar", freqDisp, specE_romAir, BLACK, 1)}
        {spike("fa", freqDisp, specE_femAir, RED, 1.3, "1 1.5")}
        {spike("fb", freqBase, baseZero, BLUE, 4)}
        {marks("fp", freqPeaks, specE_femWater, blueSq)}
      </Panel>
      <Legend x={47.7} y={901.7} w={92} h={58} top={7.6} pitch={13.9} items={dispItems} />
      <Txt x={17} y={1056} rot><ULabel pos={<>3<i>L</i>/4</>} prime /></Txt>
      <Txt x={153} y={1247}><ULabel pos={<>3<i>L</i>/4</>} /></Txt>
      <Txt x={298} y={961} rot><ULabel pos={<>3<i>L</i>/4</>} /></Txt>
      <Txt x={445} y={1052}><TauLabel /></Txt>
      <Txt x={306} y={1145} rot><SuLabel /></Txt>
      <Txt x={445} y={1243}><FLabel /></Txt>
      <Txt x={290} y={1277} size={21.5}>(e)&nbsp; Lateral displacement at 3<i>L</i>/4</Txt>

      {/* ===== (f) ===== */}
      <Panel box={[641.7, 896, 513.3, 320]} xd={[5000, 5020]} yd={[20, 55]} xt={ticksTauF} yt={ticksTension} clip lift={20}>
        {curve("ar", zip(tauF, tensionRomAir), BLACK, 1)}
        {curve("fa", zip(tauF, tensionFemAir), "none", 0, { dot: redDot })}
        {curve("rw", zip(tauF, tensionRomWater), ORANGE, 1)}
        {curve("fw", zip(tauF, tensionFemWater), "none", 0, { dot: ringDot })}
      </Panel>
      <Legend x={647} y={902} w={87} h={57} top={7} pitch={14} items={tensionItems} />
      <Txt x={611} y={1056} rot size={14.5}>Tension [N]</Txt>
      <Txt x={898} y={1248}><TauLabel /></Txt>
      <Txt x={886} y={1277} size={20.5}>(f)&nbsp; Top tensions</Txt>
    </div>
  );
}
